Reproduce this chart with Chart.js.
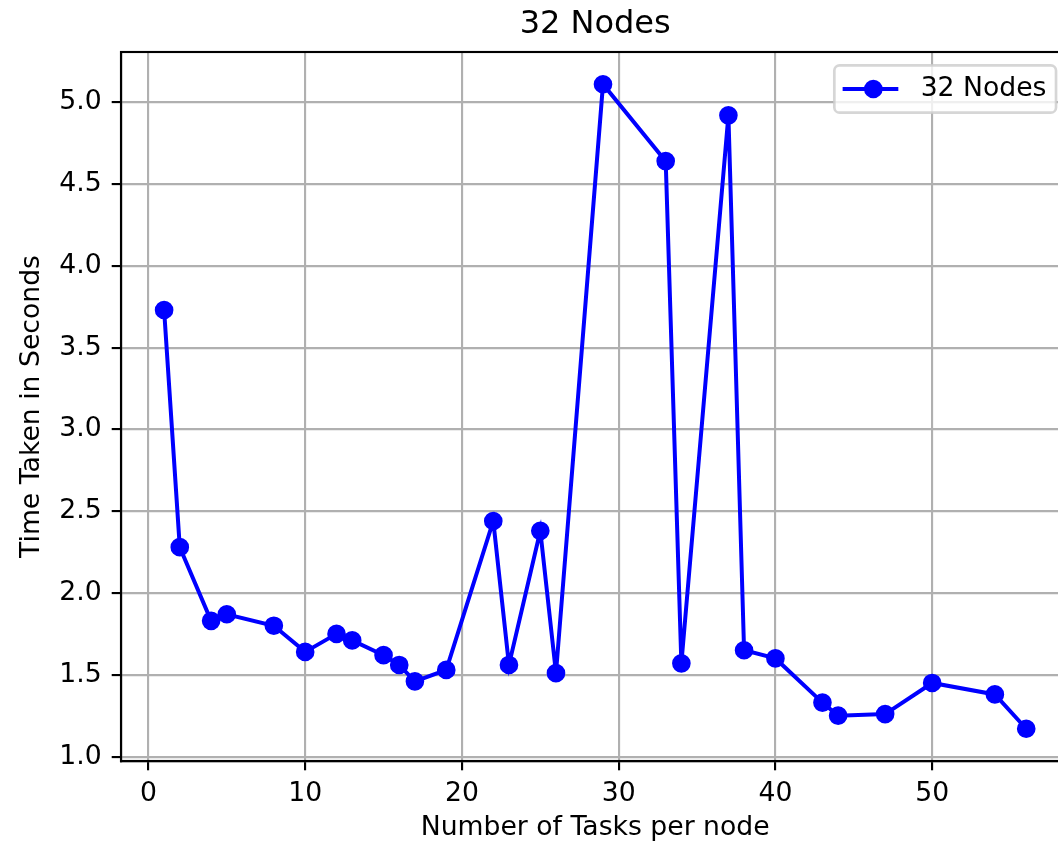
<!DOCTYPE html>
<html>
<head>
<meta charset="utf-8">
<script src="https://cdn.jsdelivr.net/npm/chart.js@4"></script>
<style>
  html, body { margin: 0; padding: 0; background: #fff; overflow: hidden; }
  #wrap { width: 1080px; height: 845px; position: relative; }
</style>
</head>
<body>
<div id="wrap"><canvas id="c" width="1080" height="845"></canvas></div>
<script>
// ---- data ----
const tasksPerNode = [1, 2, 4, 5, 8, 10, 12, 13, 15, 16, 17, 19, 22, 23, 25, 26, 29, 33, 34, 37, 38, 40, 43, 44, 47, 50, 54, 56];
const timeSeconds = [3.73, 2.28, 1.83, 1.87, 1.80, 1.64, 1.75, 1.71, 1.62, 1.56, 1.46, 1.53, 2.44, 1.56, 2.38, 1.51, 5.11, 4.64, 1.57, 4.92, 1.65, 1.60, 1.33, 1.25, 1.26, 1.45, 1.38, 1.17];
const seriesLabel = '32 Nodes';
const chartTitle = '32 Nodes';
const xTitle = 'Number of Tasks per node';
const yTitle = 'Time Taken in Seconds';

// matplotlib-like 5% margins
function margins(arr) {
  const lo = Math.min(...arr), hi = Math.max(...arr), m = (hi - lo) * 0.05;
  return [lo - m, hi + m];
}
const [xMin, xMax] = margins(tasksPerNode);
const [yMin, yMax] = margins(timeSeconds);

const FS = 26.67;
const LW = 2.13;
const FONT = 'DejaVu Sans';

const framePlugin = {
  id: 'frame',
  afterDraw(chart) {
    const ctx = chart.ctx, a = chart.chartArea;
    ctx.save();
    ctx.strokeStyle = '#000';
    ctx.lineWidth = LW;
    ctx.strokeRect(a.left, a.top, a.right - a.left, a.bottom - a.top);
    // legend (matplotlib style, inside upper right)
    const ds = chart.data.datasets[0];
    const w = 221.7, h = 47.4;
    const right = a.right - 13.3, top = a.top + 13.3;
    const left = right - w;
    const r = 5.3;
    ctx.beginPath();
    ctx.moveTo(left + r, top);
    ctx.lineTo(right - r, top);
    ctx.arcTo(right, top, right, top + r, r);
    ctx.lineTo(right, top + h - r);
    ctx.arcTo(right, top + h, right - r, top + h, r);
    ctx.lineTo(left + r, top + h);
    ctx.arcTo(left, top + h, left, top + h - r, r);
    ctx.lineTo(left, top + r);
    ctx.arcTo(left, top, left + r, top, r);
    ctx.closePath();
    ctx.fillStyle = 'rgba(255,255,255,0.8)';
    ctx.fill();
    ctx.strokeStyle = 'rgba(204,204,204,0.8)';
    ctx.lineWidth = 2.67;
    ctx.stroke();
    const cy = top + h / 2;
    ctx.beginPath();
    ctx.moveTo(left + 8.3, cy);
    ctx.lineTo(left + 64, cy);
    ctx.strokeStyle = ds.borderColor;
    ctx.lineWidth = ds.borderWidth;
    ctx.stroke();
    ctx.beginPath();
    ctx.arc(left + 39, cy, ds.pointRadius, 0, Math.PI * 2);
    ctx.fillStyle = ds.pointBackgroundColor;
    ctx.fill();
    ctx.lineWidth = ds.pointBorderWidth;
    ctx.strokeStyle = ds.pointBorderColor;
    ctx.stroke();
    ctx.fillStyle = '#000';
    ctx.font = FS + 'px "' + FONT + '"';
    ctx.textAlign = 'left';
    ctx.textBaseline = 'middle';
    ctx.fillText(ds.label, left + 86.3, cy);
    ctx.restore();
  }
};

new Chart(document.getElementById('c'), {
  type: 'line',
  data: {
    datasets: [{
      label: seriesLabel,
      data: tasksPerNode.map((x, i) => ({ x: x, y: timeSeconds[i] })),
      borderColor: '#0000ff',
      backgroundColor: '#0000ff',
      pointBackgroundColor: '#0000ff',
      pointBorderColor: '#0000ff',
      borderWidth: 4,
      pointRadius: 8,
      pointBorderWidth: 2.67,
      tension: 0,
      fill: false
    }]
  },
  options: {
    responsive: false,
    animation: false,
    devicePixelRatio: 1,
    layout: { padding: { left: 0, right: 6.5, top: 0, bottom: 0 } },
    plugins: {
      legend: { display: false },
      tooltip: { enabled: false },
      title: {
        display: true,
        text: chartTitle,
        fullSize: false,
        color: '#000',
        font: { family: FONT, size: 32, weight: 'normal', lineHeight: 1.2 },
        padding: { top: 5, bottom: 8.6 }
      }
    },
    scales: {
      x: {
        type: 'linear',
        min: xMin,
        max: xMax,
        afterFit(s) { s.height = 84; },
        ticks: {
          stepSize: 10,
          includeBounds: false,
          color: '#000',
          padding: 8,
          maxRotation: 0,
          font: { family: FONT, size: FS },
          callback: v => String(v)
        },
        grid: { color: '#b0b0b0', lineWidth: LW, tickLength: 9.3, tickColor: '#000', tickWidth: LW },
        border: { display: true, color: '#000', width: LW },
        title: {
          display: true, text: xTitle, color: '#000',
          font: { family: FONT, size: FS, lineHeight: 1.2 },
          padding: { top: 0, bottom: 1 }
        }
      },
      y: {
        type: 'linear',
        min: yMin,
        max: yMax,
        afterFit(s) { s.width = 121; },
        ticks: {
          stepSize: 0.5,
          includeBounds: false,
          color: '#000',
          padding: 10,
          font: { family: FONT, size: FS },
          callback: v => Number(v).toFixed(1)
        },
        grid: { color: '#b0b0b0', lineWidth: LW, tickLength: 9.3, tickColor: '#000', tickWidth: LW },
        border: { display: true, color: '#000', width: LW },
        title: {
          display: true, text: yTitle, color: '#000',
          font: { family: FONT, size: FS, lineHeight: 1.2 },
          padding: { top: 16, bottom: 0 }
        }
      }
    }
  },
  plugins: [framePlugin]
});
</script>
</body>
</html>
